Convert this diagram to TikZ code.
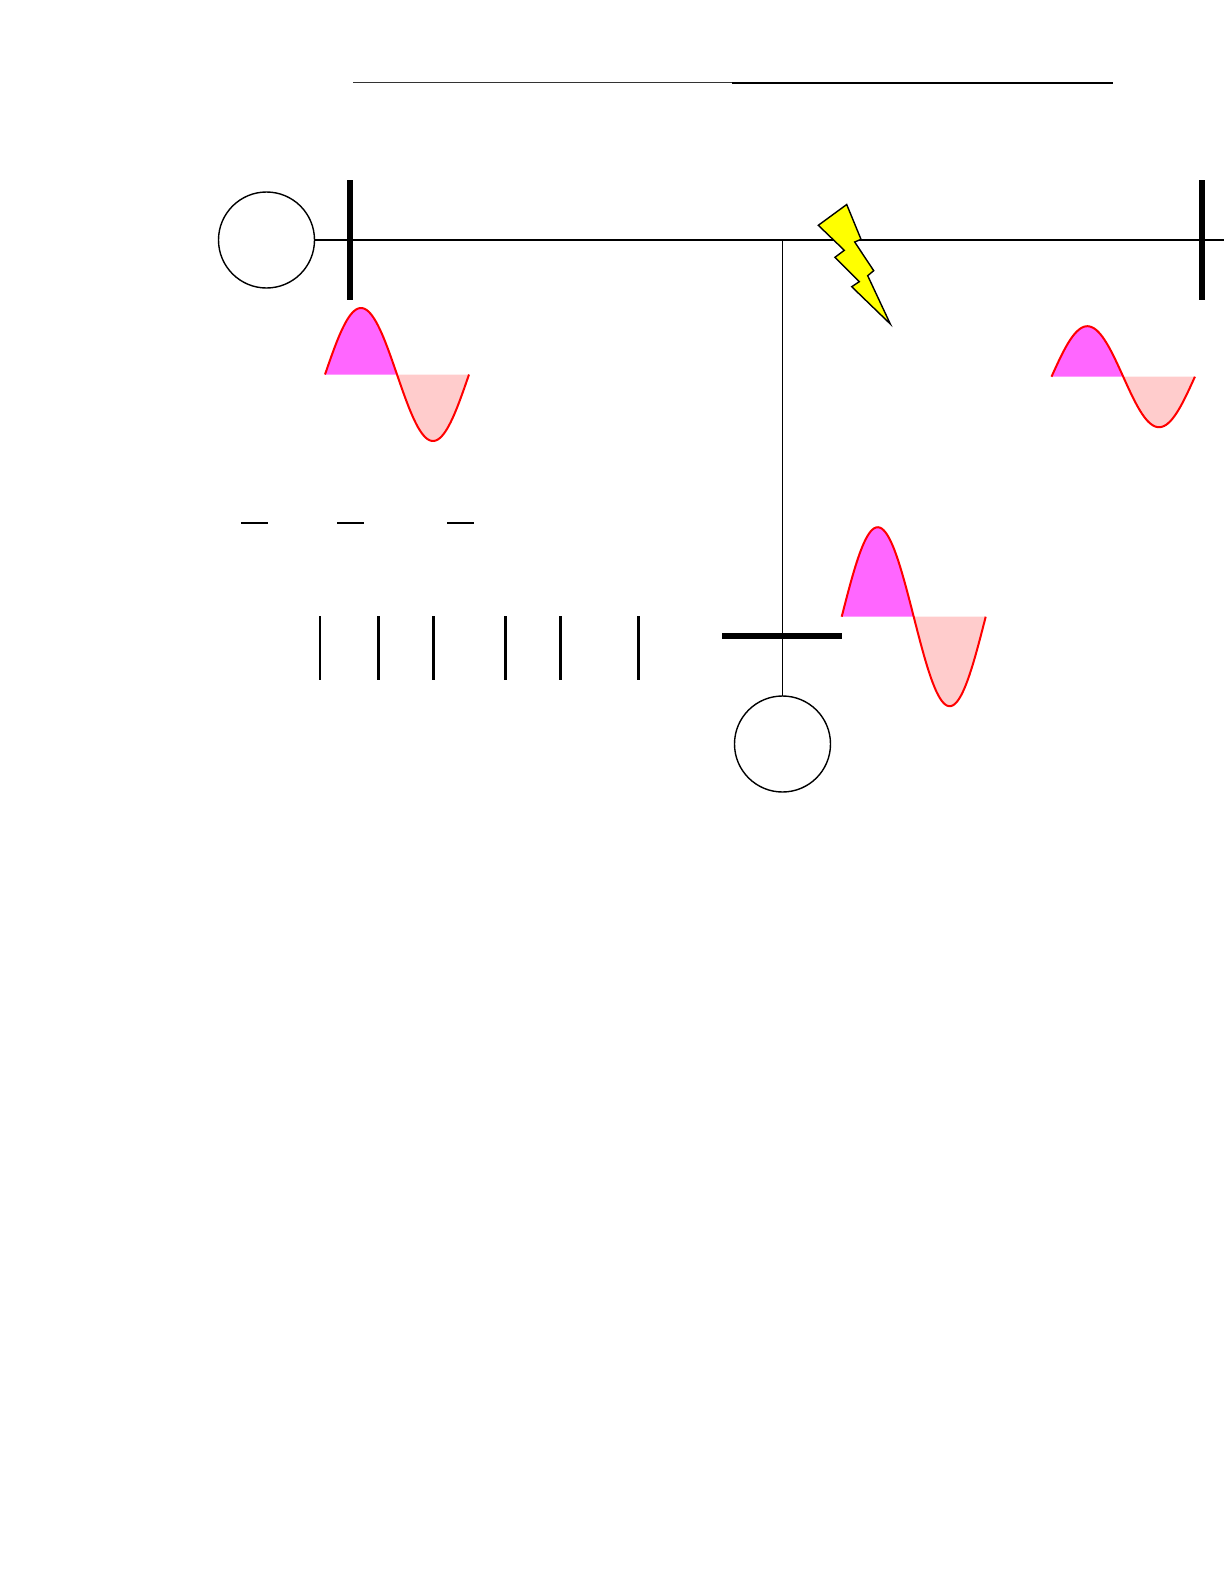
\documentclass[tikz,border=0pt]{standalone}
\usepackage{xcolor}
\usepackage{tikz}
\usetikzlibrary{positioning, calc}
\definecolor{wavepos}{HTML}{FF66FF}
\definecolor{waveneg}{HTML}{FFCCCC}
\definecolor{boltyellow}{HTML}{FFFF00}
\tikzset{
  gensource/.style={draw=black, line width=1.4pt, circle, inner sep=0pt, outer sep=0pt, minimum size=96pt},
  busbar/.style={fill=black, inner sep=0pt, outer sep=0pt},
  feeder/.style={black, line width=1.6pt},
  tickmark/.style={black, line width=2.7pt},
  dashmark/.style={black, line width=1.7pt}
}
% x0, axis y, half period, amplitude
\newcommand{\sinewave}[4]{
  \fill[wavepos] plot[domain=0:180, samples=40] ({#1+\x/180*#3},{#2-#4*sin(\x)}) -- cycle;
  \fill[waveneg] plot[domain=180:360, samples=40] ({#1+\x/180*#3},{#2-#4*sin(\x)}) -- cycle;
  \draw[red, line width=2pt, line join=round] plot[domain=0:360, samples=80] ({#1+\x/180*#3},{#2-#4*sin(\x)});
}
\begin{document}
\begin{tikzpicture}[x=1pt, y=-1pt]
  \useasboundingbox (0,0) rectangle (1224,1584);
  % top line
  \coordinate (topleft) at (353,82.5);
  \coordinate (topmid) at (732,82.5);
  \coordinate (topmidb) at (732,83);
  \coordinate (topright) at (1112.7,83);
  \draw[black!80, line width=1.7pt] (topleft) -- (topmid);
  \draw[black, line width=1.8pt] (topmidb) -- (topright);
  % network
  \node[gensource] (gen1) at (266.5,240) {};
  \node[gensource] (gen2) at (782.5,744) {};
  \coordinate (lineend) at (1224,240);
  \coordinate (tee) at (782.5,240);
  \draw[feeder] (gen1) -- (lineend);
  \draw[black, line width=1.2pt] (tee) -- (gen2);
  \node[busbar, minimum width=6pt, minimum height=120pt] (bus1) at (350,240) {};
  \node[busbar, minimum width=6pt, minimum height=120pt] (bus2) at (1202,240) {};
  \node[busbar, minimum width=120pt, minimum height=6pt] (bus3) at (782,636) {};
  % fault
  \draw[black, line width=1.4pt, fill=boltyellow, line join=miter] (846.7,204.5) -- (861,239.3) -- (854.7,242)
    -- (873.7,270.7) -- (867.7,275.7) -- (890.3,324) -- (851.7,286.7) -- (859.3,281.7)
    -- (835,257.3) -- (844.3,250.3) -- (818.3,225.3) -- cycle;
  % waves
  \sinewave{325}{374.5}{72}{66.5}
  \sinewave{1051.5}{376.7}{71.7}{50.5}
  \sinewave{841.7}{616.7}{72}{89.5}
  % marks
  \foreach \xa in {241,337,447}
    \draw[dashmark] (\xa,522.7) -- ++(27,0);
  \draw[black, line width=1.7pt] (320,616) -- (320,680);
  \foreach \xb in {378.3,433.3,505.3,560.3,638.3}
    \draw[tickmark] (\xb,616) -- (\xb,680);
\end{tikzpicture}
\end{document}
